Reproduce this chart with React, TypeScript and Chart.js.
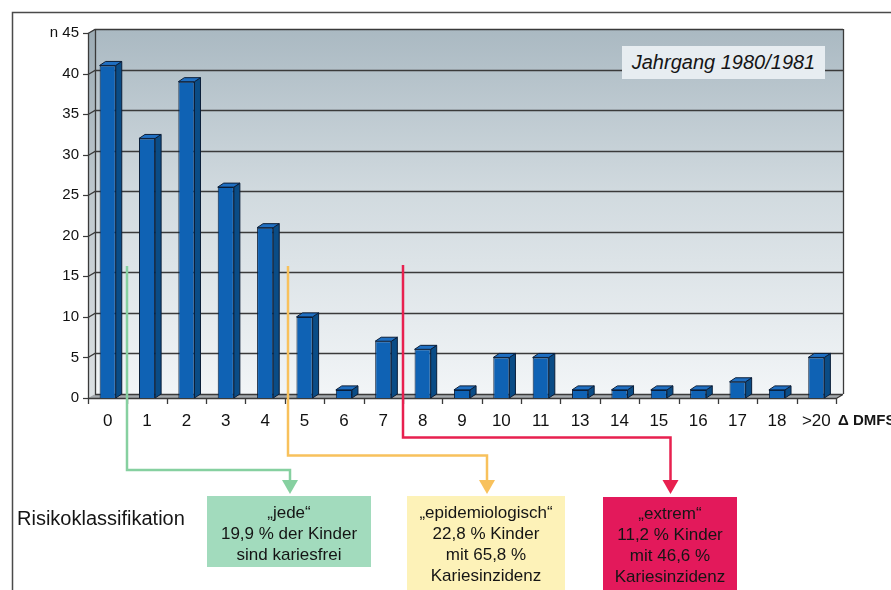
import React, { useEffect, useRef } from 'react';
import { Chart, registerables } from 'chart.js';

Chart.register(...registerables);

// ---- data ----
const categories = ['0', '1', '2', '3', '4', '5', '6', '7', '8', '9', '10', '11', '13', '14', '15', '16', '17', '18', '>20'];
const counts = [41, 32, 39, 26, 21, 10, 1, 7, 6, 1, 5, 5, 1, 1, 1, 1, 2, 1, 5];
const yMax = 45;
const yStep = 5;
const yTopPrefix = 'n ';
const xUnitLabel = 'Δ DMFS';
const chartTitle = 'Jahrgang 1980/1981';
const groupLabel = 'Risikoklassifikation';
const boxJede = ['„jede“', '19,9 % der Kinder', 'sind kariesfrei'];
const boxEpi = ['„epidemiologisch“', '22,8 % Kinder', 'mit 65,8 %', 'Kariesinzidenz'];
const boxExtrem = ['„extrem“', '11,2 % Kinder', 'mit 46,6 %', 'Kariesinzidenz'];

const FONT = '"Liberation Sans", Arial, Helvetica, sans-serif';
const WDX = 7;
const WDY = 4;
const BDX = 6;
const BDY = 4;

const threeD = {
  id: 'threeD',
  beforeDatasetsDraw(chart: any) {
    const { ctx, chartArea: a, scales } = chart;
    const ys = scales.y;
    const xs = scales.x;
    ctx.save();
    // outer frame
    ctx.strokeStyle = '#4a4a4a';
    ctx.lineWidth = 1.5;
    ctx.beginPath();
    ctx.moveTo(12.5, 590);
    ctx.lineTo(12.5, 12.5);
    ctx.lineTo(891, 12.5);
    ctx.stroke();

    // back wall
    const g = ctx.createLinearGradient(0, a.top - WDY, 0, a.bottom - WDY);
    g.addColorStop(0, '#aab9c2');
    g.addColorStop(0.45, '#d1dadf');
    g.addColorStop(1, '#f2f5f7');
    ctx.fillStyle = g;
    ctx.fillRect(a.left + WDX, a.top - WDY, a.right - a.left, a.bottom - a.top);
    // left side wall
    ctx.beginPath();
    ctx.moveTo(a.left, a.top);
    ctx.lineTo(a.left + WDX, a.top - WDY);
    ctx.lineTo(a.left + WDX, a.bottom - WDY);
    ctx.lineTo(a.left, a.bottom);
    ctx.closePath();
    ctx.fill();
    ctx.fillStyle = 'rgba(60,70,80,0.12)';
    ctx.fill();
    // floor
    ctx.beginPath();
    ctx.moveTo(a.left, a.bottom);
    ctx.lineTo(a.left + WDX, a.bottom - WDY);
    ctx.lineTo(a.right + WDX, a.bottom - WDY);
    ctx.lineTo(a.right, a.bottom);
    ctx.closePath();
    ctx.fillStyle = '#a3a8ad';
    ctx.fill();

    // gridlines on back wall with diagonal connectors
    ctx.strokeStyle = '#3a3a3a';
    ctx.lineWidth = 1.4;
    for (let v = yStep; v <= yMax; v += yStep) {
      const py = Math.round(ys.getPixelForValue(v)) + 0.5;
      ctx.beginPath();
      ctx.moveTo(a.left, py);
      ctx.lineTo(a.left + WDX, py - WDY);
      ctx.lineTo(a.right + WDX, py - WDY);
      ctx.stroke();
    }
    // y tick marks
    ctx.lineWidth = 1.2;
    for (let v = 0; v <= yMax; v += yStep) {
      const py = Math.round(ys.getPixelForValue(v)) + 0.5;
      ctx.beginPath();
      ctx.moveTo(a.left - 5, py);
      ctx.lineTo(a.left, py);
      ctx.stroke();
    }
    // wall edges
    ctx.lineWidth = 1.3;
    ctx.beginPath();
    ctx.moveTo(a.left + 0.5, a.top);
    ctx.lineTo(a.left + 0.5, a.bottom);
    ctx.moveTo(a.left + WDX + 0.5, a.top - WDY);
    ctx.lineTo(a.left + WDX + 0.5, a.bottom - WDY);
    ctx.moveTo(a.right + WDX + 0.5, a.top - WDY);
    ctx.lineTo(a.right + WDX + 0.5, a.bottom - WDY);
    // floor edges
    ctx.moveTo(a.left, a.bottom + 0.5);
    ctx.lineTo(a.right, a.bottom + 0.5);
    ctx.lineTo(a.right + WDX, a.bottom - WDY + 0.5);
    ctx.moveTo(a.left + WDX, a.bottom - WDY + 0.5);
    ctx.lineTo(a.right + WDX, a.bottom - WDY + 0.5);
    ctx.stroke();

    // x tick marks at category boundaries
    const n = categories.length;
    const cw = (a.right - a.left) / n;
    ctx.lineWidth = 1.3;
    ctx.beginPath();
    for (let i = 0; i <= n; i++) {
      const px = Math.round(xs.left + i * cw) + 0.5;
      ctx.moveTo(px, a.bottom);
      ctx.lineTo(px, a.bottom + 6);
    }
    ctx.stroke();
    ctx.restore();
  },
  afterDatasetsDraw(chart: any) {
    const { ctx } = chart;
    const meta = chart.getDatasetMeta(0);
    ctx.save();
    ctx.strokeStyle = '#0b1e38';
    ctx.lineWidth = 1;
    meta.data.forEach((bar: any) => {
      const { x, y, base, width } = bar.getProps(['x', 'y', 'base', 'width'], true);
      const l = x - width / 2;
      const r = x + width / 2;
      // side
      ctx.beginPath();
      ctx.moveTo(r, y);
      ctx.lineTo(r + BDX, y - BDY);
      ctx.lineTo(r + BDX, base - BDY);
      ctx.lineTo(r, base);
      ctx.closePath();
      ctx.fillStyle = '#0a4c86';
      ctx.fill();
      ctx.stroke();
      // top
      ctx.beginPath();
      ctx.moveTo(l, y);
      ctx.lineTo(l + BDX, y - BDY);
      ctx.lineTo(r + BDX, y - BDY);
      ctx.lineTo(r, y);
      ctx.closePath();
      ctx.fillStyle = '#1f6fc2';
      ctx.fill();
      ctx.stroke();
    });
    ctx.restore();
  },
};

function Box({ left, top, width, height, bg, lines }: any) {
  return (
    <div
      style={{
        position: 'absolute',
        left,
        top,
        width,
        height,
        background: bg,
        color: '#151515',
        fontFamily: FONT,
        fontSize: 17,
        lineHeight: '21px',
        textAlign: 'center',
        paddingTop: 6,
        boxSizing: 'border-box',
        whiteSpace: 'nowrap',
      }}
    >
      {lines.map((t: string, i: number) => (
        <div key={i}>{t}</div>
      ))}
    </div>
  );
}

export default function App() {
  const ref = useRef<HTMLCanvasElement>(null);

  useEffect(() => {
    if (!ref.current) return;
    const chart = new Chart(ref.current, {
      type: 'bar',
      data: {
        labels: categories,
        datasets: [
          {
            data: counts,
            backgroundColor: '#0f62b4',
            borderColor: '#0b1e38',
            borderWidth: 1,
            barPercentage: 0.41,
            categoryPercentage: 1,
          },
        ],
      },
      options: {
        animation: false,
        responsive: false,
        devicePixelRatio: 1,
        layout: { padding: { left: 0, top: 33, right: 55, bottom: 0 } },
        plugins: { legend: { display: false }, tooltip: { enabled: false }, title: { display: false } },
        scales: {
          x: {
            offset: true,
            grid: { display: false, drawTicks: false, tickLength: 0 },
            border: { display: false },
            ticks: {
              autoSkip: false,
              maxRotation: 0,
              padding: 13,
              color: '#111111',
              font: { family: FONT, size: 17 },
            },
            afterFit: (s: any) => {
              s.height = 192;
            },
          },
          y: {
            min: 0,
            max: yMax,
            grid: { display: false, drawTicks: false, tickLength: 0 },
            border: { display: false },
            ticks: {
              stepSize: yStep,
              padding: 9,
              color: '#111111',
              font: { family: FONT, size: 15 },
              callback: (v: any) => (v === yMax ? yTopPrefix + v : String(v)),
            },
            afterFit: (s: any) => {
              s.width = 88;
            },
          },
        },
      },
      plugins: [threeD],
    });
    return () => chart.destroy();
  }, []);

  return (
    <div style={{ position: 'absolute', left: 0, top: 0, width: 891, height: 590, background: '#fff', overflow: 'hidden' }}>
      <canvas ref={ref} width={891} height={590} style={{ position: 'absolute', left: 0, top: 0 }} />
      <div
        style={{
          position: 'absolute',
          left: 622,
          top: 46,
          width: 203,
          height: 33,
          background: '#e7edf1',
          fontFamily: FONT,
          fontStyle: 'italic',
          fontSize: 20,
          lineHeight: '33px',
          textAlign: 'center',
          color: '#151515',
        }}
      >
        {chartTitle}
      </div>
      <div
        style={{
          position: 'absolute',
          left: 838,
          top: 410,
          fontFamily: FONT,
          fontWeight: 'bold',
          fontSize: 15,
          lineHeight: '20px',
          color: '#151515',
          whiteSpace: 'nowrap',
        }}
      >
        {xUnitLabel}
      </div>
      <svg width={891} height={590} style={{ position: 'absolute', left: 0, top: 0 }}>
        <polyline points="127,266 127,470 290,470 290,482" fill="none" stroke="#86d0a0" strokeWidth={2.5} />
        <polygon points="282,480 298,480 290,494" fill="#86d0a0" />
        <polyline points="288,266 288,455.5 487,455.5 487,482" fill="none" stroke="#f8c15c" strokeWidth={2.5} />
        <polygon points="479,480 495,480 487,494" fill="#f8c15c" />
        <polyline points="403,265 403,437.5 670.5,437.5 670.5,482" fill="none" stroke="#e8204f" strokeWidth={2.5} />
        <polygon points="662.5,480 678.5,480 670.5,494" fill="#e8204f" />
      </svg>
      <div
        style={{
          position: 'absolute',
          left: 17,
          top: 506,
          fontFamily: FONT,
          fontSize: 20,
          lineHeight: '24px',
          color: '#151515',
          whiteSpace: 'nowrap',
        }}
      >
        {groupLabel}
      </div>
      <Box left={207} top={496} width={164} height={71} bg="#a2dbbd" lines={boxJede} />
      <Box left={407} top={496} width={158} height={100} bg="#fdf2b8" lines={boxEpi} />
      <Box left={603} top={497} width={134} height={100} bg="#e3195b" lines={boxExtrem} />
    </div>
  );
}
